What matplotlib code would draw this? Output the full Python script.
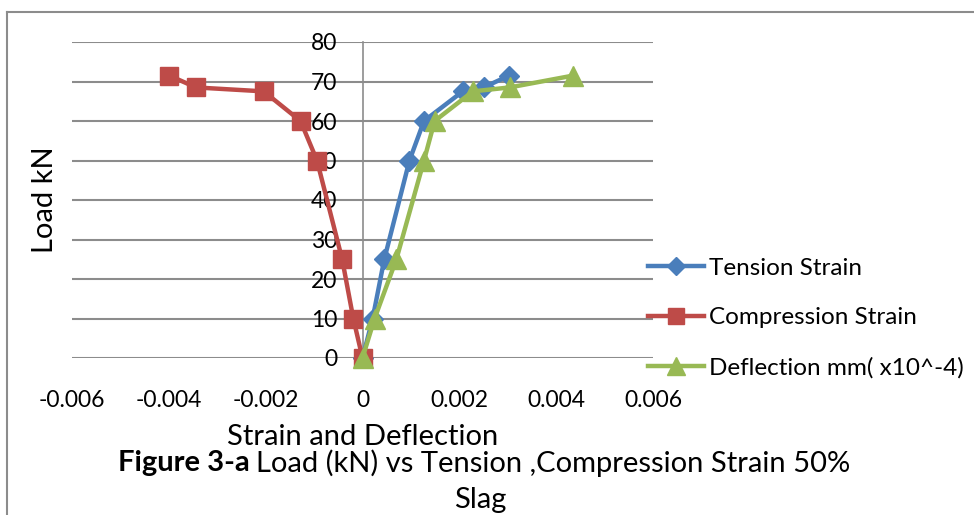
import matplotlib
matplotlib.use("Agg")
import matplotlib.pyplot as plt
from matplotlib.lines import Line2D

plt.rcParams["font.family"] = ["Lato", "DejaVu Sans"]

# ---- data ----
load_kn = [0, 10, 25, 50, 60, 67.5, 68.5, 71.5]
tension_strain = [0, 0.00021, 0.00045, 0.00097, 0.00127, 0.00207, 0.0025, 0.00303]
compression_strain = [0, -0.00019, -0.00042, -0.00094, -0.00128, -0.00204, -0.00344, -0.00399]
compression_load = [0, 10, 25, 50, 60, 67.5, 68.5, 71.5]
deflection = [0, 0.00025, 0.0007, 0.00127, 0.00149, 0.00228, 0.00304, 0.00435]

x_ticks = [-0.006, -0.004, -0.002, 0, 0.002, 0.004, 0.006]
x_tick_labels = ["-0.006", "-0.004", "-0.002", "0", "0.002", "0.004", "0.006"]
y_ticks = [0, 10, 20, 30, 40, 50, 60, 70, 80]

BLUE = "#4A7EBB"
RED = "#BE4B48"
GREEN = "#98B954"
GRID = "#8C8C8C"

fig = plt.figure(figsize=(9.74, 5.15), dpi=100)
ax = fig.add_axes([72 / 974, 1 - 358 / 515, 581 / 974, 316 / 515])

ax.plot(tension_strain, load_kn, color=BLUE, lw=3.2, marker="D", ms=10,
        clip_on=False, zorder=3, label="Tension Strain")
ax.plot(compression_strain, compression_load, color=RED, lw=3.2, marker="s", ms=13,
        clip_on=False, zorder=3, label="Compression Strain")
ax.plot(deflection, load_kn, color=GREEN, lw=3.2, marker="^", ms=14,
        clip_on=False, zorder=4, label="Deflection mm( x10^-4)")

ax.set_xlim(-0.006, 0.006)
ax.set_ylim(0, 80)
ax.set_xticks(x_ticks)
ax.set_xticklabels(x_tick_labels)
ax.set_yticks(y_ticks)

ax.grid(axis="y", color=GRID, lw=1.5, zorder=0)
for s in ["top", "right", "bottom"]:
    ax.spines[s].set_visible(False)
ax.spines["left"].set_position(("data", 0))
ax.spines["left"].set_color(GRID)
ax.spines["left"].set_linewidth(1.2)
ax.tick_params(axis="y", length=0, pad=18, labelsize=16.5)
ax.tick_params(axis="x", length=0, pad=23, labelsize=16.5)

fig.text(45 / 974, 1 - 200 / 515, "Load kN", rotation=90, fontsize=21,
         ha="center", va="center")
fig.text(363 / 974, 1 - 437 / 515, "Strain and Deflection", fontsize=21,
         ha="center", va="center")
cap = fig.text(118 / 974, 1 - 463 / 515, "Figure 3-a", fontsize=21, fontweight="bold",
               ha="left", va="center")
fig.canvas.draw()
bb = cap.get_window_extent()
fig.text((bb.x1 + 6) / 974, 1 - 463 / 515, "Load (kN) vs Tension ,Compression Strain 50%",
         fontsize=21, ha="left", va="center")
fig.text(480 / 974, 1 - 500 / 515, "Slag", fontsize=21, ha="center", va="center")

# chart frame
fig.add_artist(Line2D([7 / 974, 7 / 974], [0, 1 - 12 / 515], color=GRID, lw=1.5))
fig.add_artist(Line2D([7 / 974, 1], [1 - 12 / 515, 1 - 12 / 515], color=GRID, lw=1.5))

fig.legend(loc="center left", bbox_to_anchor=(648 / 974, 1 - 318 / 515), frameon=False,
           fontsize=17.5, handlelength=2.3, handletextpad=0.2, labelspacing=1.17,
           borderpad=0, borderaxespad=0, markerscale=0.9)

fig.savefig("out.png", dpi=100)
